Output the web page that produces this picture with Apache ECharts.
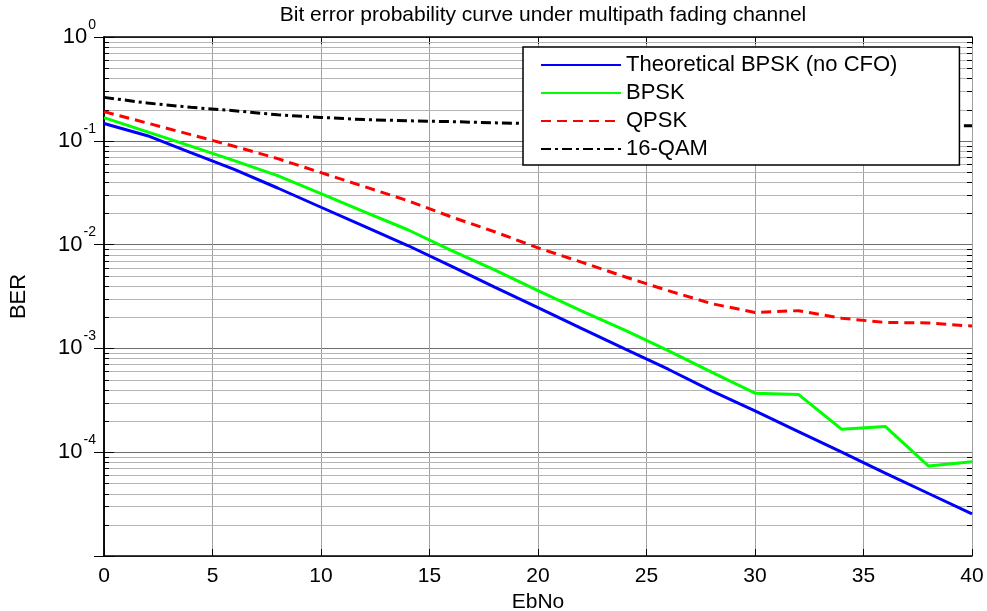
<!DOCTYPE html>
<html>
<head>
<meta charset="utf-8">
<script src="https://cdn.jsdelivr.net/npm/echarts@6/dist/echarts.min.js"></script>
<style>
html, body { margin: 0; padding: 0; background: #fff; }
#main { width: 987px; height: 611px; }
</style>
</head>
<body>
<div id="main"></div>
<script>
// EbNo (dB)
var ebno = [0, 2, 4, 6, 8, 10, 12, 14, 16, 18, 20, 22, 24, 26, 28, 30, 32, 34, 36, 38, 40];
// BER values
var berTheory = [0.147, 0.112, 0.077, 0.053, 0.0351, 0.0229, 0.015, 0.0098, 0.0062, 0.0039, 0.00247,
                 0.00156, 0.00099, 0.00063, 0.00039, 0.00025, 0.000158, 0.0001, 0.000063, 0.00004, 0.0000255];
var berBpsk = [0.167, 0.122, 0.089, 0.0645, 0.0462, 0.031, 0.0207, 0.0139, 0.0088, 0.0057, 0.0036,
               0.0023, 0.0015, 0.00095, 0.00059, 0.00037, 0.00036, 0.000166, 0.000177, 0.0000735, 0.000081];
var berQpsk = [0.191, 0.148, 0.1146, 0.0887, 0.0674, 0.0494, 0.0362, 0.0265, 0.0185, 0.0133, 0.0093,
               0.00678, 0.0049, 0.0036, 0.0027, 0.00222, 0.00231, 0.00195, 0.00178, 0.00176, 0.00164];
var berQam16 = [0.262, 0.231, 0.21, 0.195, 0.178, 0.168, 0.16, 0.156, 0.153, 0.149, 0.146,
                0.145, 0.144, 0.143, 0.143, 0.142, 0.142, 0.141, 0.141, 0.140, 0.140];
var seriesNames = ['Theoretical BPSK (no CFO)', 'BPSK', 'QPSK', '16-QAM'];

var xMin = 0, xMax = 40, xStep = 5;
var yMin = 1e-5, yMax = 1;
// minor grid lines of the log axis: 2..9 times each decade
var minorMult = [2, 3, 4, 5, 6, 7, 8, 9];
var decades = [-5, -4, -3, -2, -1];

var minorTicks = [];
decades.forEach(function (d) {
    minorMult.forEach(function (m) {
        minorTicks.push([xMin, m * Math.pow(10, d)]);
    });
});

function pairs(ys) {
    return ebno.map(function (x, i) { return [x, ys[i]]; });
}

var font = 'Liberation Sans, Arial, Helvetica, sans-serif';

var myChart = echarts.init(document.getElementById('main'));

option = {
    animation: false,
    backgroundColor: '#fff',
    title: {
        text: 'Bit error probability curve under multipath fading channel',
        left: 538,
        top: 0,
        textAlign: 'center',
        textStyle: { fontFamily: font, fontSize: 21, fontWeight: 'normal', color: '#000' }
    },
    grid: { left: 104, right: 15, top: 37, bottom: 55, outerBoundsMode: 'none' },
    legend: {
        orient: 'vertical',
        left: 523,
        top: 47,
        data: seriesNames,
        backgroundColor: '#fff',
        borderColor: '#000',
        borderWidth: 1.5,
        borderRadius: 0,
        padding: [7, 62, 5, 17],
        itemWidth: 80,
        itemHeight: 14,
        itemGap: 6,
        itemTextGap: 8,
        itemStyle: { opacity: 0 },
        textStyle: { fontFamily: font, fontSize: 22, lineHeight: 22, color: '#000' }
    },
    xAxis: [{
        type: 'value',
        min: xMin,
        max: xMax,
        interval: xStep,
        name: 'EbNo',
        nameLocation: 'middle',
        nameGap: 35,
        nameTextStyle: { fontFamily: font, fontSize: 21, color: '#000' },
        axisLine: { lineStyle: { color: '#000', width: 1.5 } },
        axisTick: { inside: true, length: 7, lineStyle: { color: '#000' } },
        axisLabel: { fontFamily: font, fontSize: 21, color: '#000', margin: 10 },
        splitLine: { show: true, lineStyle: { color: '#a0a0a0', width: 1 } }
    }, {
        type: 'value',
        position: 'top',
        min: xMin,
        max: xMax,
        interval: xStep,
        axisLine: { show: true, lineStyle: { color: '#000', width: 1.5 } },
        axisTick: { show: true, inside: true, length: 7, lineStyle: { color: '#000' } },
        axisLabel: { show: false },
        splitLine: { show: false }
    }],
    yAxis: [{
        type: 'log',
        logBase: 10,
        min: yMin,
        max: yMax,
        name: 'BER',
        nameLocation: 'middle',
        nameGap: 74,
        nameTextStyle: { fontFamily: font, fontSize: 22, color: '#000' },
        axisLine: { show: true, lineStyle: { color: '#000', width: 1.5 } },
        axisTick: { inside: true, length: 10, lineStyle: { color: '#000' } },
        axisLabel: {
            margin: 8,
            formatter: function (v) {
                var e = Math.round(Math.log(v) / Math.LN10);
                if (e === -5) return '';
                return '{b|10}{s|' + e + '}';
            },
            rich: {
                b: { fontFamily: font, fontSize: 22, color: '#000' },
                s: { fontFamily: font, fontSize: 14, color: '#000', padding: [0, 0, 24, 1] }
            }
        },
        splitLine: { show: true, lineStyle: { color: '#6e6e6e', width: 1 } }
    }, {
        type: 'log',
        logBase: 10,
        min: yMin,
        max: yMax,
        position: 'right',
        axisLine: { show: true, lineStyle: { color: '#000', width: 1.5 } },
        axisTick: { show: true, inside: true, length: 10, lineStyle: { color: '#000' } },
        axisLabel: { show: false },
        splitLine: { show: false }
    }],
    series: [
        {
            name: 'minor',
            type: 'custom',
            silent: true,
            z: 1,
            data: minorTicks,
            renderItem: function (params, api) {
                var v = api.value(1);
                var p0 = api.coord([xMin, v]);
                var p1 = api.coord([xMax, v]);
                var y = Math.round(p0[1]) + 0.5;
                return {
                    type: 'group',
                    children: [
                        { type: 'line', shape: { x1: p0[0], y1: y, x2: p1[0], y2: y },
                          style: { stroke: '#b4b4b4', lineWidth: 1 } },
                        { type: 'line', shape: { x1: p0[0], y1: y, x2: p0[0] + 5, y2: y },
                          style: { stroke: '#000', lineWidth: 1 } },
                        { type: 'line', shape: { x1: p1[0] - 5, y1: y, x2: p1[0], y2: y },
                          style: { stroke: '#000', lineWidth: 1 } }
                    ]
                };
            }
        },
        {
            name: seriesNames[0],
            type: 'line',
            data: pairs(berTheory),
            symbol: 'none',
            z: 3,
            lineStyle: { color: '#0000ff', width: 3 },
            itemStyle: { color: '#0000ff' }
        },
        {
            name: seriesNames[1],
            type: 'line',
            data: pairs(berBpsk),
            symbol: 'none',
            z: 3,
            lineStyle: { color: '#00ff00', width: 3 },
            itemStyle: { color: '#00ff00' }
        },
        {
            name: seriesNames[2],
            type: 'line',
            data: pairs(berQpsk),
            symbol: 'none',
            z: 3,
            lineStyle: { color: '#ff0000', width: 3, type: [10, 6] },
            itemStyle: { color: '#ff0000' }
        },
        {
            name: seriesNames[3],
            type: 'line',
            data: pairs(berQam16),
            symbol: 'none',
            z: 3,
            lineStyle: { color: '#000', width: 3, type: [10, 4, 3, 4] },
            itemStyle: { color: '#000' }
        }
    ]
};

myChart.setOption(option);
</script>
</body>
</html>
